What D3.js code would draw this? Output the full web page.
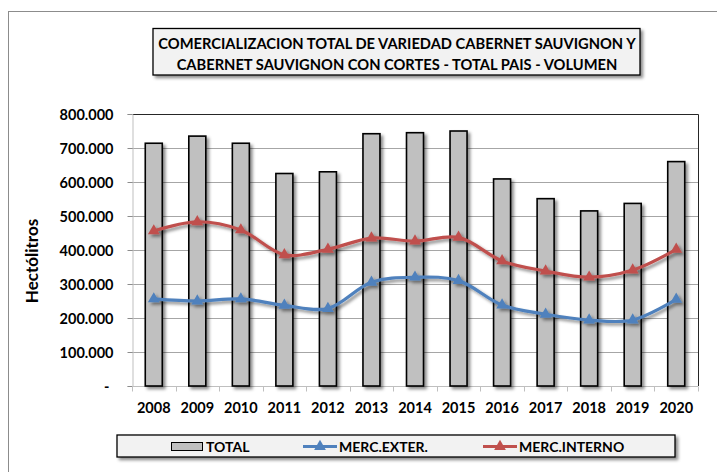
<!DOCTYPE html>
<html>
<head>
<meta charset="utf-8">
<script src="https://cdn.jsdelivr.net/npm/d3@7"></script>
<style>
  body { margin: 0; background: #fff; }
  text { font-family: Lato, "Open Sans", sans-serif; font-weight: bold; fill: #000; }
</style>
</head>
<body>
<div id="chart"></div>
<script>
// data (hectolitres)
var years = ["2008","2009","2010","2011","2012","2013","2014","2015","2016","2017","2018","2019","2020"];
var total = [714000, 735000, 714000, 625000, 630000, 742000, 745000, 750000, 609000, 551000, 515000, 537000, 660000];
var mercExter = [256000, 250000, 256000, 237000, 228000, 305000, 320000, 310000, 238000, 211000, 194000, 194000, 255000];
var mercInterno = [456000, 483000, 459000, 386000, 402000, 435000, 426000, 437000, 368000, 338000, 320000, 341000, 402000];
var yTicks = [0, 100000, 200000, 300000, 400000, 500000, 600000, 700000, 800000];

function draw(){
  var width = 717, height = 472;
  var pLeft = 132, pRight = 698, pTop = 114, pBottom = 386;

  var svg = d3.select("#chart").append("svg")
      .attr("width", width)
      .attr("height", height);

  // drop shadow like the excel one
  var defs = svg.append("defs");
  var f = defs.append("filter").attr("id", "shadow")
      .attr("x", "-20%").attr("y", "-20%").attr("width", "160%").attr("height", "160%");
  f.append("feDropShadow").attr("dx", 2.5).attr("dy", 2.5).attr("stdDeviation", 1.8)
      .attr("flood-color", "#000").attr("flood-opacity", 0.45);

  // outer chart frame (goes off the right and bottom of the picture)
  svg.append("rect")
      .attr("x", 8.5).attr("y", 11.5)
      .attr("width", 760).attr("height", 520)
      .attr("fill", "none").attr("stroke", "#8c8c8c").attr("stroke-width", 1);

  var x = d3.scaleBand().domain(years).range([pLeft, pRight]);
  var y = d3.scaleLinear().domain([0, 800000]).range([pBottom, pTop]);

  // gridlines
  svg.append("g")
    .selectAll("line")
    .data(yTicks.filter(d => d > 0 && d < 800000))
    .join("line")
      .attr("x1", pLeft).attr("x2", pRight)
      .attr("y1", d => Math.round(y(d)) + 0.5).attr("y2", d => Math.round(y(d)) + 0.5)
      .attr("stroke", "#a6a6a6").attr("stroke-width", 1);

  // plot area border top and right
  svg.append("path")
      .attr("d", `M${pLeft},${pTop + 0.5}H${pRight + 0.5}V${pBottom}`)
      .attr("fill", "none").attr("stroke", "#262626").attr("stroke-width", 1);

  // y axis
  var fmt = function(d){
    if (d === 0) return "-";
    return d3.format(",")(d).replace(/,/g, ".");
  };
  var yAxis = svg.append("g")
      .attr("transform", `translate(${pLeft + 0.5},0)`)
      .call(d3.axisLeft(y).tickValues(yTicks).tickSize(5).tickPadding(14).tickFormat(fmt));
  yAxis.select(".domain").attr("stroke", "#bfbfbf");
  yAxis.selectAll(".tick line").attr("stroke", "#8c8c8c");
  yAxis.selectAll("text")
      .attr("font-size", 14.5).attr("font-family", "Lato").attr("font-weight", "bold").attr("fill", "#000")
      .attr("dy", "0.35em");
  yAxis.selectAll(".tick").filter(d => d === 0).select("text").attr("dx", -4);

  // x axis with ticks between categories
  var xAxis = svg.append("g")
      .attr("transform", `translate(0,${pBottom + 0.5})`);
  xAxis.append("line")
      .attr("x1", pLeft).attr("x2", pRight)
      .attr("stroke", "#bfbfbf");
  xAxis.selectAll("line.sep")
    .data(years.concat(["end"]))
    .join("line")
      .attr("class", "sep")
      .attr("x1", (d, i) => Math.round(pLeft + i * x.bandwidth()) + 0.5)
      .attr("x2", (d, i) => Math.round(pLeft + i * x.bandwidth()) + 0.5)
      .attr("y1", 0).attr("y2", 5)
      .attr("stroke", "#bfbfbf");
  xAxis.selectAll("text")
    .data(years)
    .join("text")
      .attr("x", d => x(d) + x.bandwidth() / 2)
      .attr("y", 26)
      .attr("text-anchor", "middle")
      .attr("font-size", 14.5)
      .text(d => d);

  // bars
  var bw = 17;
  svg.append("g")
    .selectAll("rect")
    .data(total)
    .join("rect")
      .attr("x", (d, i) => x(years[i]) + x.bandwidth() / 2 - bw / 2)
      .attr("y", d => y(d))
      .attr("width", bw)
      .attr("height", d => y(0) - y(d))
      .attr("fill", "#c0c0c0")
      .attr("stroke", "#000")
      .attr("stroke-width", 1.6)
      .attr("filter", "url(#shadow)");

  // smoothed lines, excel style
  var line = d3.line()
      .curve(d3.curveCatmullRom.alpha(0.5))
      .x((d, i) => x(years[i]) + x.bandwidth() / 2)
      .y(d => y(d));
  var tri = d3.symbol().type(d3.symbolTriangle).size(60);

  function drawSeries(vals, color){
    var g = svg.append("g").attr("filter", "url(#shadow)");
    g.append("path")
        .attr("d", line(vals))
        .attr("fill", "none")
        .attr("stroke", color)
        .attr("stroke-width", 3.2)
        .attr("stroke-linejoin", "round");
    g.selectAll("path.m")
      .data(vals)
      .join("path")
        .attr("class", "m")
        .attr("d", tri)
        .attr("transform", (d, i) => `translate(${x(years[i]) + x.bandwidth() / 2},${y(d)})`)
        .attr("fill", color);
  }
  drawSeries(mercExter, "#4f81bd");
  drawSeries(mercInterno, "#c0504d");

  // y axis title
  svg.append("text")
      .attr("transform", "translate(38,261) rotate(-90)")
      .attr("text-anchor", "middle")
      .attr("font-size", 17)
      .text("Hectólitros");

  // title box
  svg.append("rect")
      .attr("x", 153).attr("y", 28.5)
      .attr("width", 487).attr("height", 46.5)
      .attr("fill", "#f2f2f2")
      .attr("stroke", "#000").attr("stroke-width", 1.3)
      .attr("filter", "url(#shadow)");
  var titleLines = ["COMERCIALIZACION TOTAL DE VARIEDAD CABERNET SAUVIGNON Y",
                    "CABERNET SAUVIGNON CON CORTES - TOTAL PAIS - VOLUMEN"];
  svg.append("g")
    .selectAll("text")
    .data(titleLines)
    .join("text")
      .attr("x", 397)
      .attr("y", (d, i) => 48.5 + i * 21.5)
      .attr("text-anchor", "middle")
      .attr("font-size", 14.7)
      .text(d => d);

  // legend
  svg.append("rect")
      .attr("x", 117).attr("y", 435)
      .attr("width", 558).attr("height", 22)
      .attr("fill", "#f2f2f2")
      .attr("stroke", "#000").attr("stroke-width", 1.3)
      .attr("filter", "url(#shadow)");
  var leg = svg.append("g");
  leg.append("rect")
      .attr("x", 171.5).attr("y", 442.5).attr("width", 31).attr("height", 8)
      .attr("fill", "#c0c0c0").attr("stroke", "#000").attr("stroke-width", 1);
  leg.append("text").attr("x", 206).attr("y", 451.5).attr("font-size", 14).text("TOTAL");

  var legSeries = [
    {name: "MERC.EXTER.", color: "#4f81bd", x0: 303},
    {name: "MERC.INTERNO", color: "#c0504d", x0: 483}
  ];
  legSeries.forEach(function(s){
    leg.append("line")
        .attr("x1", s.x0).attr("x2", s.x0 + 34)
        .attr("y1", 446.5).attr("y2", 446.5)
        .attr("stroke", s.color).attr("stroke-width", 3);
    leg.append("path")
        .attr("d", tri)
        .attr("transform", `translate(${s.x0 + 17},446.5)`)
        .attr("fill", s.color);
    leg.append("text").attr("x", s.x0 + 36).attr("y", 451.5).attr("font-size", 14).text(s.name);
  });
}
draw();
</script>
</body>
</html>
